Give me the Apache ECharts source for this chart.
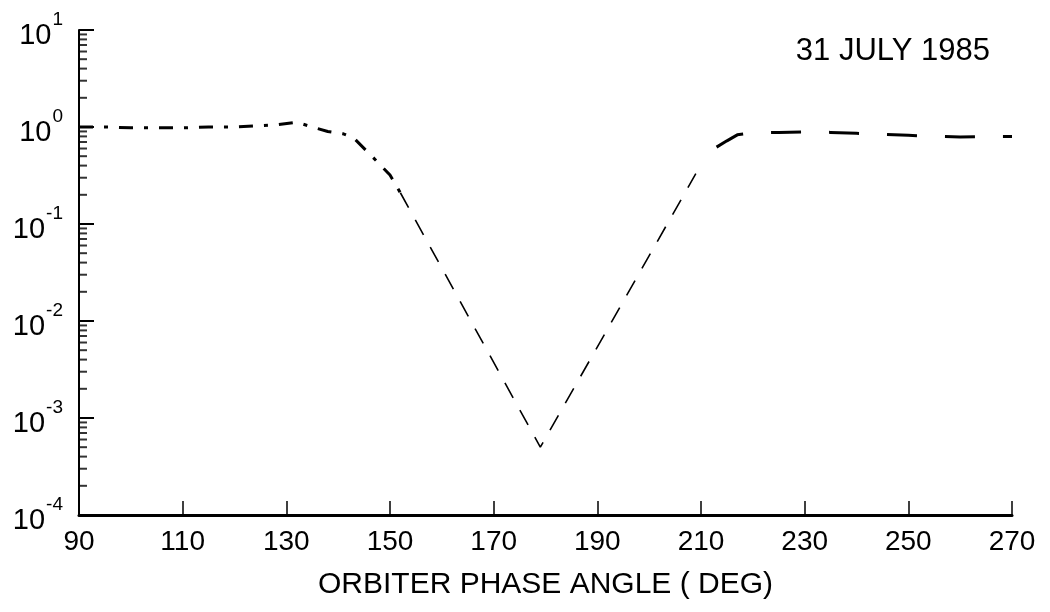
<!DOCTYPE html>
<html>
<head>
<meta charset="utf-8">
<script src="https://cdn.jsdelivr.net/npm/echarts@6/dist/echarts.min.js"></script>
<style>
  html, body { margin: 0; padding: 0; background: #fff; }
  #chart { width: 1050px; height: 612px; }
</style>
</head>
<body>
<div id="chart"></div>
<script>
// measured ratio, before occultation
var leftAngle = [90, 95, 100, 105, 110, 115, 120, 125, 128, 132, 135, 138, 141, 143, 146.5, 150, 152];
var leftRatio = [1.0, 1.0, 0.98, 0.98, 0.98, 1.0, 1.0, 1.03, 1.05, 1.12, 1.0, 0.9, 0.85, 0.77, 0.5, 0.32, 0.21];

// dashed V through the minimum
var modelAngle = [152, 179, 209];
var modelRatio = [0.21, 0.0005, 0.33];

// measured ratio, after occultation
var rightAngle = [213, 215, 217, 220, 225, 230, 235, 240, 245, 250, 255, 260, 265, 270];
var rightRatio = [0.62, 0.72, 0.83, 0.87, 0.88, 0.89, 0.88, 0.86, 0.84, 0.82, 0.8, 0.79, 0.8, 0.8];

var xTicks = [90, 110, 130, 150, 170, 190, 210, 230, 250, 270];
var decades = [-4, -3, -2, -1, 0];
var minorMult = [2, 3, 4, 5, 6, 7, 8, 9];

var FONT = 'Liberation Sans';

function pairs(xs, ys) {
    return xs.map(function (x, i) { return [x, ys[i]]; });
}

// minor log ticks on the y axis, placed at x = 90 via the axes
var minorTicks = [];
decades.forEach(function (d) {
    minorMult.forEach(function (m) {
        minorTicks.push([90, m * Math.pow(10, d)]);
    });
});

var chart = echarts.init(document.getElementById('chart'));

var option = {
    backgroundColor: '#ffffff',
    animation: false,
    title: {
        text: '31 JULY 1985',
        right: 55,
        top: 31,
        textStyle: { fontFamily: FONT, fontSize: 31, fontWeight: 'normal', color: '#000' }
    },
    grid: { left: 79, right: 38, top: 30, bottom: 97 },
    xAxis: {
        type: 'value',
        min: 90,
        max: 270,
        interval: 20,
        name: 'ORBITER PHASE ANGLE ( DEG)',
        nameLocation: 'middle',
        nameGap: 55,
        nameTextStyle: { fontFamily: FONT, fontSize: 30, color: '#000' },
        axisLine: { show: true, lineStyle: { color: '#000', width: 3 } },
        axisTick: { show: true, inside: true, length: 14, lineStyle: { color: '#000', width: 1.5 } },
        axisLabel: {
            margin: 13,
            fontFamily: FONT,
            fontSize: 28,
            color: '#000',
            formatter: function (v) { return xTicks.indexOf(v) >= 0 ? String(v) : ''; }
        },
        splitLine: { show: false }
    },
    yAxis: {
        type: 'log',
        logBase: 10,
        min: 0.0001,
        max: 10,
        axisLine: { show: true, lineStyle: { color: '#000', width: 2 } },
        axisTick: { show: true, inside: true, length: 15, lineStyle: { color: '#000', width: 2 } },
        axisLabel: {
            margin: 16,
            color: '#000',
            formatter: function (v) {
                var e = Math.round(Math.log(v) / Math.LN10);
                return '{p| }{b|10}{s|' + e + '}';
            },
            rich: {
                // p only makes the line tall, so b sits low and s sits high
                p: { fontSize: 2, lineHeight: 40 },
                b: { fontFamily: FONT, fontSize: 29, lineHeight: 29, color: '#000', verticalAlign: 'bottom' },
                s: { fontFamily: FONT, fontSize: 19, lineHeight: 19, color: '#000', verticalAlign: 'top', padding: [0, 0, 0, 1] }
            }
        },
        splitLine: { show: false }
    },
    series: [
        {
            type: 'scatter',
            data: minorTicks,
            symbol: 'rect',
            symbolSize: [8, 2],
            symbolOffset: [4, 0],
            itemStyle: { color: '#000' },
            silent: true,
            z: 3
        },
        {
            type: 'line',
            data: pairs(leftAngle, leftRatio),
            showSymbol: false,
            lineStyle: { color: '#000', width: 3, type: [14, 11, 4, 11] },
            silent: true
        },
        {
            type: 'line',
            data: pairs(modelAngle, modelRatio),
            showSymbol: false,
            lineStyle: { color: '#000', width: 1.6, type: [17, 14] },
            silent: true
        },
        {
            type: 'line',
            data: pairs(rightAngle, rightRatio),
            showSymbol: false,
            lineStyle: { color: '#000', width: 3, type: [30, 28] },
            silent: true
        }
    ]
};

chart.setOption(option);
</script>
</body>
</html>
